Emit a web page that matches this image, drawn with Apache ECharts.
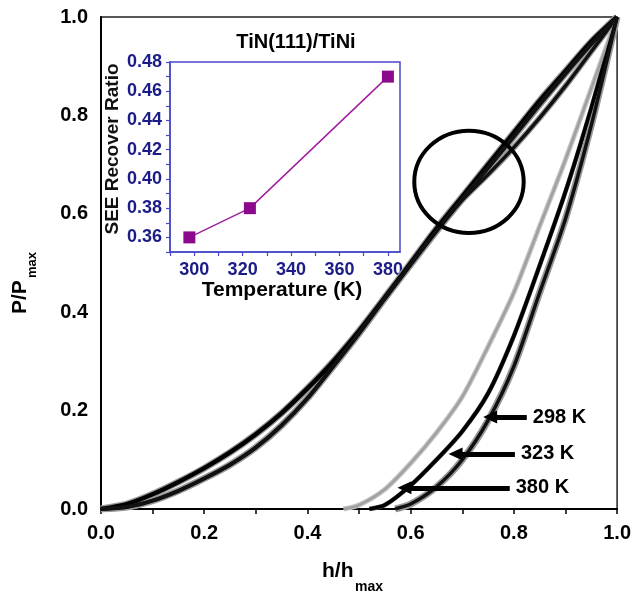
<!DOCTYPE html>
<html>
<head>
<meta charset="utf-8">
<script src="https://cdn.jsdelivr.net/npm/echarts/dist/echarts.min.js"></script>
<style>
  html, body { margin: 0; padding: 0; background: #fff; }
  #chart { width: 634px; height: 594px; }
</style>
</head>
<body>
<div id="chart"></div>
<script>
// Normalised load–depth curves, [h/hmax, P/Pmax]
const loadUpper = [[0,0],[0.05,0.01],[0.1,0.03],[0.15,0.055],[0.2,0.083],[0.25,0.115],[0.3,0.152],[0.35,0.195],[0.4,0.245],[0.45,0.3],[0.5,0.362],[0.55,0.43],[0.6,0.5],[0.65,0.57],[0.7,0.635],[0.75,0.7],[0.8,0.765],[0.85,0.83],[0.9,0.89],[0.95,0.95],[1,1]];
const loadMiddle = [[0,0],[0.05,0.004],[0.1,0.017],[0.15,0.037],[0.2,0.062],[0.25,0.09],[0.3,0.125],[0.35,0.17],[0.4,0.225],[0.45,0.29],[0.5,0.357],[0.55,0.428],[0.6,0.497],[0.65,0.565],[0.7,0.63],[0.75,0.693],[0.8,0.757],[0.85,0.822],[0.9,0.885],[0.95,0.945],[1,1]];
const loadLower = [[0,0],[0.05,0.004],[0.1,0.017],[0.15,0.037],[0.2,0.062],[0.25,0.09],[0.3,0.125],[0.35,0.17],[0.4,0.225],[0.45,0.29],[0.5,0.357],[0.55,0.428],[0.6,0.497],[0.65,0.565],[0.7,0.628],[0.75,0.68],[0.8,0.735],[0.85,0.795],[0.9,0.86],[0.95,0.93],[1,1]];

const unload298 = [[0.57,0],[0.6,0.01],[0.65,0.045],[0.7,0.1],[0.75,0.18],[0.8,0.29],[0.85,0.44],[0.9,0.59],[0.95,0.78],[1,1]];
const unload323 = [[0.52,0],[0.55,0.008],[0.6,0.048],[0.65,0.1],[0.7,0.158],[0.75,0.235],[0.8,0.352],[0.85,0.495],[0.9,0.645],[0.95,0.815],[1,1]];
const unload380 = [[0.47,0],[0.5,0.008],[0.55,0.04],[0.6,0.093],[0.65,0.155],[0.7,0.228],[0.75,0.33],[0.8,0.44],[0.85,0.575],[0.9,0.71],[0.95,0.855],[1,1]];

// Temperature labels with their arrows (tip / tail in h/hmax, level in P/Pmax)
const arrowLabels = ['298 K', '323 K', '380 K'];
const arrowTips   = [0.754, 0.687, 0.588];
const arrowTails  = [0.825, 0.802, 0.792];
const arrowLevels = [0.187, 0.112, 0.043];

// Highlighted crossing region: centre and radii in data units
const ringCentre = [0.713, 0.665];
const ringRadii  = [0.106, 0.104];

// Inset: SEE recover ratio versus temperature
const insetTemps = [298, 323, 380];
const insetRatio = [0.36, 0.38, 0.47];

const FONT = '"Liberation Sans", Arial, Helvetica, sans-serif';
const NAVY = '#1c1c86';
const BLUE = '#4848c8';

function curve(data, haloColor, haloWidth, coreColor, coreWidth, extra) {
  const base = {
    type: 'line', xAxisIndex: 0, yAxisIndex: 0, data: data,
    showSymbol: false, symbol: 'none', smooth: 0.25,
    silent: true, animation: false
  };
  return [
    Object.assign({}, base, { lineStyle: { color: haloColor, width: haloWidth }, z: 2 }),
    Object.assign({}, base, { lineStyle: { color: coreColor, width: coreWidth }, z: 3 }, extra || {})
  ];
}

function arrow(i) {
  return {
    markLine: {
      silent: true, animation: false,
      symbol: ['triangle', 'none'], symbolSize: [13, 14],
      lineStyle: { color: '#000', width: 5, type: 'solid' },
      label: {
        show: true, position: 'end', distance: 6,
        formatter: arrowLabels[i],
        color: '#000', fontFamily: FONT, fontWeight: 'bold', fontSize: 20
      },
      data: [[
        { coord: [arrowTips[i], arrowLevels[i]] },
        { coord: [arrowTails[i], arrowLevels[i]] }
      ]]
    }
  };
}

const chart = echarts.init(document.getElementById('chart'), null, { renderer: 'canvas' });

const series = [].concat(
  curve(loadUpper, '#9a9a9a', 7, '#000', 4.5),
  curve(loadMiddle, '#9a9a9a', 7, '#111', 4),
  curve(loadLower, '#9a9a9a', 6, '#111', 3.5),
  curve(unload380, '#c4c4c4', 5, '#a0a0a0', 2.5, arrow(2)),
  curve(unload323, '#444', 4.5, '#000', 3.5, arrow(1)),
  curve(unload298, '#9a9a9a', 7, '#111', 3.5, arrow(0)),
  [{
    type: 'custom', xAxisIndex: 0, yAxisIndex: 0, silent: true, animation: false, z: 5,
    data: [[ringCentre[0], ringCentre[1], ringRadii[0], ringRadii[1]]],
    renderItem: function (params, api) {
      const c = api.coord([api.value(0), api.value(1)]);
      const e = api.coord([api.value(0) + api.value(2), api.value(1) + api.value(3)]);
      return {
        type: 'ellipse',
        shape: { cx: c[0], cy: c[1], rx: Math.abs(e[0] - c[0]), ry: Math.abs(e[1] - c[1]) },
        style: { fill: 'none', stroke: '#000', lineWidth: 4 }
      };
    }
  }, {
    type: 'line', xAxisIndex: 1, yAxisIndex: 1, silent: true, animation: false,
    data: insetTemps.map((t, i) => [t, insetRatio[i]]),
    symbol: 'rect', symbolSize: 12,
    itemStyle: { color: '#8b0a8b' },
    lineStyle: { color: '#a020a0', width: 1.5 }
  }]
);

chart.setOption({
  animation: false,
  backgroundColor: '#fff',
  grid: [
    { left: 101, top: 17, width: 520, height: 492, show: true, borderColor: '#222', borderWidth: 1.5, backgroundColor: 'transparent' },
    { left: 170, top: 62, width: 230, height: 190, show: true, borderColor: BLUE, borderWidth: 1.5, backgroundColor: 'transparent' }
  ],
  xAxis: [{
    gridIndex: 0, type: 'value', min: 0, max: 1, interval: 0.1,
    axisLine: { show: true, onZero: false, lineStyle: { color: '#000', width: 2 } },
    axisTick: { show: true, length: 5, lineStyle: { color: '#000', width: 1.5 } },
    splitLine: { show: false },
    axisLabel: {
      margin: 14, color: '#000', fontFamily: FONT, fontWeight: 'bold', fontSize: 20,
      formatter: v => (Math.round(v * 10) % 2 === 0 ? v.toFixed(1) : '')
    }
  }, {
    gridIndex: 1, type: 'value', min: 290, max: 385, interval: 10,
    axisLine: { show: true, onZero: false, lineStyle: { color: BLUE, width: 1.5 } },
    axisTick: { show: true, length: 4, lineStyle: { color: BLUE, width: 1.2 } },
    splitLine: { show: false },
    axisLabel: {
      margin: 9, color: NAVY, fontFamily: FONT, fontWeight: 'bold', fontSize: 18,
      showMaxLabel: false,
      formatter: v => (Math.round(v) % 20 === 0 ? String(Math.round(v)) : '')
    }
  }],
  yAxis: [{
    gridIndex: 0, type: 'value', min: 0, max: 1, interval: 0.2,
    axisLine: { show: true, onZero: false, lineStyle: { color: '#000', width: 2 } },
    axisTick: { show: false },
    splitLine: { show: false },
    axisLabel: {
      margin: 13, color: '#000', fontFamily: FONT, fontWeight: 'bold', fontSize: 20,
      formatter: v => v.toFixed(1)
    }
  }, {
    gridIndex: 1, type: 'value', min: 0.35, max: 0.48, interval: 0.01,
    axisLine: { show: true, onZero: false, lineStyle: { color: BLUE, width: 1.5 } },
    axisTick: { show: true, length: 4, lineStyle: { color: BLUE, width: 1.2 } },
    splitLine: { show: false },
    axisLabel: {
      margin: 8, color: NAVY, fontFamily: FONT, fontWeight: 'bold', fontSize: 18,
      formatter: v => (Math.round(v * 100) % 2 === 0 ? v.toFixed(2) : '')
    }
  }],
  graphic: [
    { type: 'text', x: 296, y: 42, silent: true,
      style: { text: 'TiN(111)/TiNi', fill: '#000', font: 'bold 20px ' + FONT, align: 'center', verticalAlign: 'middle' } },
    { type: 'text', x: 282, y: 290, silent: true,
      style: { text: 'Temperature (K)', fill: '#000', font: 'bold 21px ' + FONT, align: 'center', verticalAlign: 'middle' } },
    { type: 'text', x: 113, y: 149, rotation: Math.PI / 2, silent: true,
      style: { text: 'SEE Recover Ratio', fill: '#111', font: 'bold 19px ' + FONT, align: 'center', verticalAlign: 'middle' } },
    { type: 'text', x: 322, y: 571, silent: true,
      style: { text: 'h/h', fill: '#000', font: 'bold 21px ' + FONT, align: 'left', verticalAlign: 'middle' } },
    { type: 'text', x: 355, y: 587, silent: true,
      style: { text: 'max', fill: '#000', font: 'bold 14px ' + FONT, align: 'left', verticalAlign: 'middle' } },
    { type: 'text', x: 20, y: 314, rotation: Math.PI / 2, silent: true,
      style: { text: 'P/P', fill: '#000', font: 'bold 21px ' + FONT, align: 'left', verticalAlign: 'middle' } },
    { type: 'text', x: 32, y: 278, rotation: Math.PI / 2, silent: true,
      style: { text: 'max', fill: '#000', font: 'bold 13px ' + FONT, align: 'left', verticalAlign: 'middle' } }
  ],
  series: series
});
</script>
</body>
</html>
